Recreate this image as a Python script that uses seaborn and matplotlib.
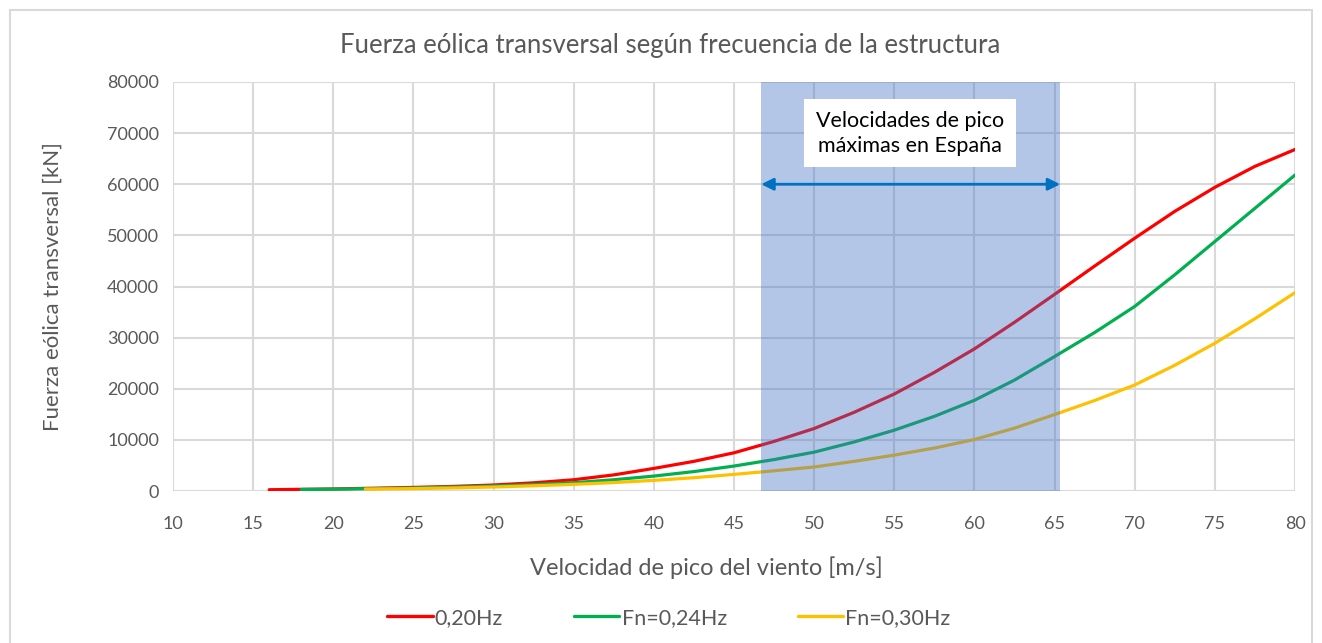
import matplotlib
matplotlib.use("Agg")
import matplotlib.pyplot as plt
from matplotlib.patches import Rectangle
from matplotlib.lines import Line2D
import seaborn as sns
import pandas as pd

# ---- data ----
x_020 = [16, 17.5, 20, 22.5, 25, 27.5, 30, 32.5, 35, 37.5, 40, 42.5, 45, 47.5, 50,
         52.5, 55, 57.5, 60, 62.5, 65, 67.5, 70, 72.5, 75, 77.5, 80]
y_020 = [250, 310, 400, 540, 700, 900, 1170, 1600, 2200, 3150, 4420, 5800, 7470, 9700, 12220,
         15400, 18970, 23200, 27800, 33000, 38460, 44000, 49450, 54700, 59400, 63500, 66800]

x_024 = [18, 20, 22.5, 25, 27.5, 30, 32.5, 35, 37.5, 40, 42.5, 45, 47.5, 50,
         52.5, 55, 57.5, 60, 62.5, 65, 67.5, 70, 72.5, 75, 77.5, 80]
y_024 = [300, 360, 470, 600, 770, 970, 1250, 1620, 2200, 2920, 3800, 4880, 6150, 7600,
         9600, 11900, 14600, 17740, 21700, 26300, 31000, 36100, 42300, 48800, 55300, 61800]

x_030 = [22, 25, 27.5, 30, 32.5, 35, 37.5, 40, 42.5, 45, 47.5, 50,
         52.5, 55, 57.5, 60, 62.5, 65, 67.5, 70, 72.5, 75, 77.5, 80]
y_030 = [380, 470, 600, 780, 1020, 1300, 1650, 2080, 2600, 3250, 3950, 4700,
         5800, 7020, 8400, 10070, 12300, 14950, 17700, 20740, 24600, 28900, 33700, 38800]

series_labels = ["0,20Hz", "Fn=0,24Hz", "Fn=0,30Hz"]
series_colors = ["#ff0000", "#00b050", "#ffc000"]

x_ticks = list(range(10, 81, 5))
y_ticks = list(range(0, 80001, 10000))

band_start, band_end = 46.7, 65.35
arrow_y = 60000
box_text = "Velocidades de pico\nmáximas en España"
box_x, box_y = 56.0, 70000

title = "Fuerza eólica transversal según frecuencia de la estructura"
xlabel = "Velocidad de pico del viento [m/s]"
ylabel = "Fuerza eólica transversal [kN]"

df = pd.concat([
    pd.DataFrame({"v": x_020, "F": y_020, "serie": series_labels[0]}),
    pd.DataFrame({"v": x_024, "F": y_024, "serie": series_labels[1]}),
    pd.DataFrame({"v": x_030, "F": y_030, "serie": series_labels[2]}),
], ignore_index=True)

# ---- figure ----
sns.set_theme(style="white")
plt.rcParams["font.family"] = ["Lato", "DejaVu Sans"]
txt = "#595959"

fig = plt.figure(figsize=(13.22, 6.43), dpi=100)
ax = fig.add_axes([173 / 1322, 1 - 491 / 643, (1295 - 173) / 1322, (491 - 82) / 643])

# outer chart frame
fig.patches.append(Rectangle((10 / 1322, -0.05), (1312 - 10) / 1322, 1.05 - 10 / 643,
                             transform=fig.transFigure, fill=False,
                             edgecolor="#d9d9d9", linewidth=1.5, zorder=0))

sns.lineplot(data=df, x="v", y="F", hue="serie", hue_order=series_labels,
             palette=series_colors, linewidth=2.3, sort=False, estimator=None,
             legend=False, ax=ax, zorder=2)

ax.axvspan(band_start, band_end, color="#4472c4", alpha=0.4, lw=0, zorder=3)

ax.annotate("", xy=(band_end, arrow_y), xytext=(band_start, arrow_y),
            arrowprops=dict(arrowstyle="<|-|>", color="#0070c0", lw=2,
                            mutation_scale=18, shrinkA=0, shrinkB=0), zorder=4)
ax.text(box_x, box_y, box_text, ha="center", va="center", fontsize=15.5,
        color="black", linespacing=1.3, zorder=5,
        bbox=dict(boxstyle="square,pad=0.55", facecolor="white", edgecolor="none"))

ax.set_xlim(10, 80)
ax.set_ylim(0, 80000)
ax.set_xticks(x_ticks)
ax.set_yticks(y_ticks)
ax.set_xticklabels([str(t) for t in x_ticks])
ax.set_yticklabels([str(t) for t in y_ticks])
ax.grid(True, color="#d9d9d9", linewidth=1.5)
ax.set_axisbelow(True)
for s in ax.spines.values():
    s.set_visible(False)
ax.tick_params(axis="both", length=0, labelsize=13, labelcolor=txt)
ax.tick_params(axis="x", pad=18)
ax.tick_params(axis="y", pad=10)

ax.set_xlabel(xlabel, fontsize=17, color=txt)
ax.xaxis.set_label_coords((706 - 173) / 1122, -(556 - 491) / 409)
ax.set_ylabel(ylabel, fontsize=16, color=txt, labelpad=32)
fig.text(670 / 1322, 1 - 45 / 643, title, ha="center", va="center",
         fontsize=18.5, color=txt)

handles = [Line2D([0], [0], color=c, lw=2.4) for c in series_colors]
fig.legend(handles, series_labels, loc="center", bbox_to_anchor=(669 / 1322, 1 - 618 / 643),
           ncol=3, frameon=False, fontsize=15.5, labelcolor=txt, handlelength=2.1,
           handletextpad=0.1, columnspacing=3.3)

fig.savefig("out.png", dpi=100, facecolor="white")
